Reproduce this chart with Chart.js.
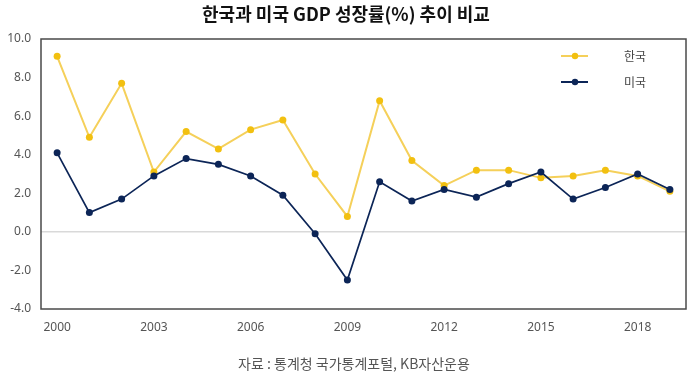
<!DOCTYPE html>
<html><head><meta charset="utf-8">
<script src="https://cdn.jsdelivr.net/npm/chart.js@4.4.0/dist/chart.umd.min.js"></script>
<style>
html,body{margin:0;padding:0;background:#fff;width:692px;height:379px;overflow:hidden;}
#wrap{position:relative;width:692px;height:379px;}
#title{position:absolute;left:0;top:0;width:692px;text-align:center;font-family:"Noto Sans CJK KR",sans-serif;font-weight:bold;font-size:18px;line-height:26px;color:#111;}
#src{position:absolute;left:8px;top:352px;width:692px;text-align:center;font-family:"Noto Sans CJK KR",sans-serif;font-size:14px;line-height:22px;color:#555;}
canvas{position:absolute;left:0;top:0;}
</style></head>
<body><div id="wrap">
<canvas id="c" width="692" height="379"></canvas>
<div id="title">한국과 미국 GDP 성장률(%) 추이 비교</div>
<div id="src">자료 : 통계청 국가통계포털, KB자산운용</div>
</div>
<script>
const years = ['2000','2001','2002','2003','2004','2005','2006','2007','2008','2009','2010','2011','2012','2013','2014','2015','2016','2017','2018','2019'];
const korea = [9.1,4.9,7.7,3.1,5.2,4.3,5.3,5.8,3.0,0.8,6.8,3.7,2.4,3.2,3.2,2.8,2.9,3.2,2.9,2.1];
const usa = [4.1,1.0,1.7,2.9,3.8,3.5,2.9,1.9,-0.1,-2.5,2.6,1.6,2.2,1.8,2.5,3.1,1.7,2.3,3.0,2.2];
const seriesNames = ['한국','미국'];
const yTicks = [-4,-2,0,2,4,6,8,10];

const gold = '#F2C010', goldLine = '#F5D05A', navy = '#0C2557';
const tickFont = {family:'"Noto Sans", "Noto Sans CJK KR", sans-serif', size:12};

const framePlugin = {
  id:'frame',
  afterDraw(chart){
    const a = chart.chartArea, ctx = chart.ctx;
    ctx.save();
    ctx.strokeStyle = '#4a4a4a'; ctx.lineWidth = 1.5;
    ctx.strokeRect(a.left, a.top, a.right - a.left, a.bottom - a.top);
    const items = [{c:gold,l:goldLine,t:seriesNames[0],y:56},{c:navy,l:navy,t:seriesNames[1],y:82}];
    items.forEach(it=>{
      ctx.strokeStyle = it.l; ctx.lineWidth = 2;
      ctx.beginPath(); ctx.moveTo(561,it.y); ctx.lineTo(588,it.y); ctx.stroke();
      ctx.fillStyle = it.c; ctx.beginPath(); ctx.arc(575,it.y,3.2,0,Math.PI*2); ctx.fill();
      ctx.fillStyle = '#444'; ctx.font = '12px "Noto Sans CJK KR", sans-serif';
      ctx.textAlign='left'; ctx.textBaseline='middle';
      ctx.fillText(it.t, 624, it.y);
    });
    ctx.restore();
  }
};

new Chart(document.getElementById('c'), {
  type:'line',
  data:{labels:years, datasets:[
    {label:seriesNames[0], data:korea, order:2, borderColor:goldLine, backgroundColor:gold, pointBackgroundColor:gold, pointBorderColor:gold, borderWidth:2, pointRadius:3.5, pointBorderWidth:0, tension:0},
    {label:seriesNames[1], data:usa, order:1, borderColor:navy, backgroundColor:navy, pointBackgroundColor:navy, pointBorderColor:navy, borderWidth:1.7, pointRadius:3.5, pointBorderWidth:0, tension:0}
  ]},
  options:{
    responsive:false, animation:false,
    layout:{padding:{left:0,right:6,top:39,bottom:0}},
    plugins:{legend:{display:false}, tooltip:{enabled:false}},
    scales:{
      x:{offset:true, grid:{display:false}, border:{display:false},
        ticks:{autoSkip:false, maxRotation:0, color:'#555', font:tickFont, padding:3,
          callback:(v,i)=> i%3===0 ? years[i] : ''},
        afterFit:s=>{s.height=70;}},
      y:{min:-4,max:10, border:{display:false},
        grid:{drawTicks:false, color:c=> c.tick && c.tick.value===0 ? '#d9d9d9':'transparent', lineWidth:1.5},
        afterBuildTicks:s=>{s.ticks = yTicks.map(v=>({value:v}));},
        ticks:{color:'#555', font:tickFont, padding:10, callback:v=>Number(v).toFixed(1)},
        afterFit:s=>{s.width=41;}}
    }
  },
  plugins:[framePlugin]
});
</script>
</body></html>
